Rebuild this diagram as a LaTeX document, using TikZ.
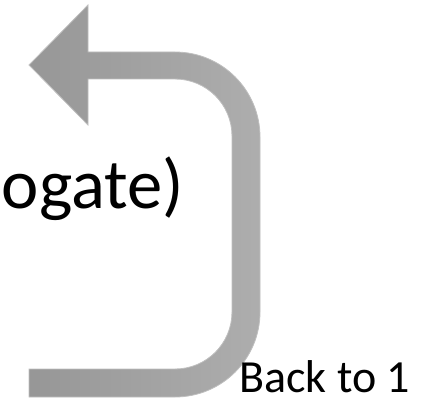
\documentclass[tikz,border=0pt]{standalone}
\usepackage{fontspec}
\setmainfont{Carlito}

\begin{document}
\begin{tikzpicture}[
    x=0.75pt, y=-0.75pt,
    % Arrow style: grey body, slightly darker towards the head
    loopback/.style={left color=gray!82, right color=gray!64, draw=gray!50, line width=0.6pt},
    % Text styles
    bigtext/.style={font=\fontsize{53}{60}\selectfont, anchor=base east, inner sep=0pt},
    backlabel/.style={font=\fontsize{34.5}{40}\selectfont, anchor=base west, inner sep=0pt}
]

% Page frame
\useasboundingbox (0,0) rectangle (441,399);

% Ends of the U-turn arrow
\coordinate (tail) at (29,383);
\coordinate (tip) at (29,65);

% U-turn arrow, back towards the top left (y runs downwards, so angles turn clockwise)
\shade[loopback] (tail |- 0,397) -- (175,397)
    arc[start angle=90, end angle=0, radius=85] -- (260,137)
    arc[start angle=0, end angle=-90, radius=85] -- (88,52)
    -- (88,5) -- (tip) -- (88,125) -- (88,79) -- (175,79)
    arc[start angle=-90, end angle=0, radius=57] -- (232,312)
    arc[start angle=0, end angle=90, radius=57] -- (tail |- 0,369) -- cycle;

% Labels
\node[bigtext] (surrogate) at (184,208) {ogate)};
\node[backlabel] (back) at (239,392) {Back to 1};

\end{tikzpicture}
\end{document}
